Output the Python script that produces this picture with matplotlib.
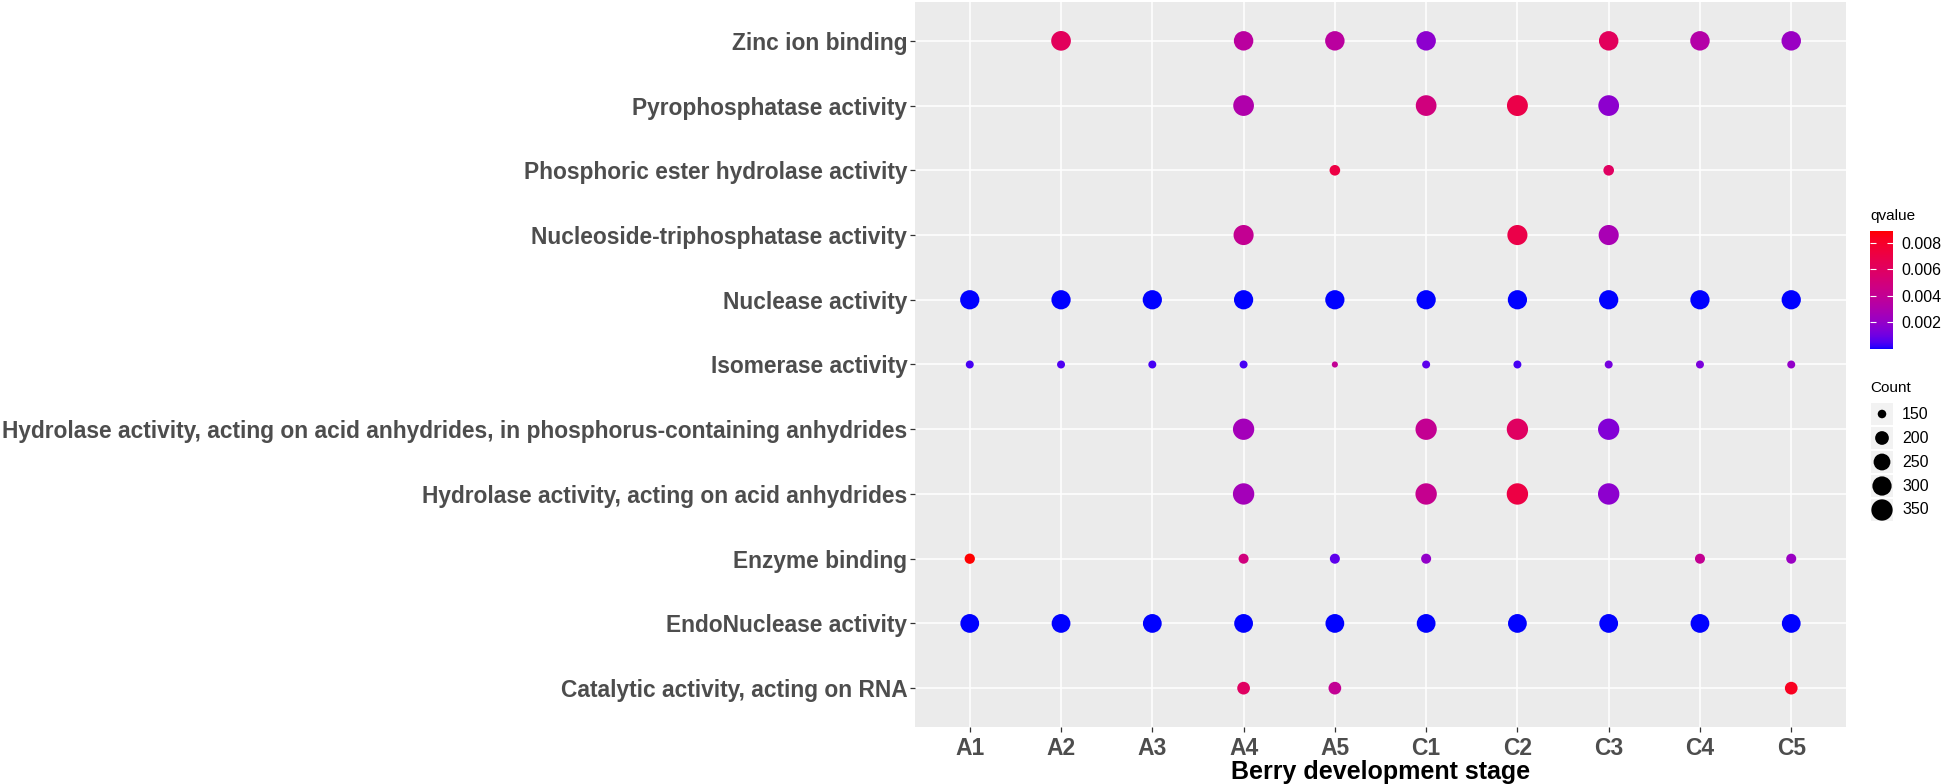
import numpy as np
import matplotlib
matplotlib.use("Agg")
import matplotlib.pyplot as plt
from matplotlib.colors import ListedColormap, Normalize
from matplotlib.patches import Rectangle

plt.rcParams['font.family'] = ['Liberation Sans', 'DejaVu Sans']

# ================================
#      DATA
# ================================
stages = ["A1", "A2", "A3", "A4", "A5", "C1", "C2", "C3", "C4", "C5"]

# bottom -> top (ggplot factor order)
terms = [
    "Catalytic activity, acting on RNA",
    "EndoNuclease activity",
    "Enzyme binding",
    "Hydrolase activity, acting on acid anhydrides",
    "Hydrolase activity, acting on acid anhydrides, in phosphorus-containing anhydrides",
    "Isomerase activity",
    "Nuclease activity",
    "Nucleoside-triphosphatase activity",
    "Phosphoric ester hydrolase activity",
    "Pyrophosphatase activity",
    "Zinc ion binding",
]

hit_stages = [
    ["A4", "A5", "C5"],
    ["A1", "A2", "A3", "A4", "A5", "C1", "C2", "C3", "C4", "C5"],
    ["A1", "A4", "A5", "C1", "C4", "C5"],
    ["A4", "C1", "C2", "C3"],
    ["A4", "C1", "C2", "C3"],
    ["A1", "A2", "A3", "A4", "A5", "C1", "C2", "C3", "C4", "C5"],
    ["A1", "A2", "A3", "A4", "A5", "C1", "C2", "C3", "C4", "C5"],
    ["A4", "C2", "C3"],
    ["A5", "C3"],
    ["A4", "C1", "C2", "C3"],
    ["A2", "A4", "A5", "C1", "C3", "C4", "C5"],
]

hit_counts = [
    [187, 187, 187],
    [290, 290, 290, 290, 290, 290, 290, 290, 290, 290],
    [162, 160, 160, 160, 160, 160],
    [352, 352, 352, 352],
    [350, 350, 350, 350],
    [147, 147, 147, 147, 141, 147, 147, 147, 147, 147],
    [300, 300, 300, 300, 300, 300, 300, 300, 300, 300],
    [320, 320, 320],
    [165, 165],
    [335, 335, 340, 335],
    [310, 305, 305, 305, 305, 305, 305],
]

hit_qvalues = [
    [0.0060, 0.0040, 0.0083],
    [0.00001] * 10,
    [0.0089, 0.0049, 0.0007, 0.0020, 0.0041, 0.0022],
    [0.0026, 0.0042, 0.0071, 0.0018],
    [0.0026, 0.0041, 0.0060, 0.0015],
    [0.0004, 0.0005, 0.0004, 0.0004, 0.0040, 0.0007, 0.0004, 0.0012, 0.0013, 0.0020],
    [0.00001] * 10,
    [0.0041, 0.0069, 0.0028],
    [0.0071, 0.0060],
    [0.0031, 0.0049, 0.0069, 0.0018],
    [0.0062, 0.0036, 0.0036, 0.0018, 0.0062, 0.0033, 0.0022],
]

legend_counts = [150, 200, 250, 300, 350]
q_ticks = [0.002, 0.004, 0.006, 0.008]
q_min, q_max = 0.0, 0.0089


# ================================
#      blue -> red gradient in Lab (like ggplot)
# ================================
def srgb_to_lab(rgb):
    rgb = np.asarray(rgb, dtype=float)
    lin = np.where(rgb <= 0.04045, rgb / 12.92, ((rgb + 0.055) / 1.055) ** 2.4)
    m = np.array([[0.4124, 0.3576, 0.1805],
                  [0.2126, 0.7152, 0.0722],
                  [0.0193, 0.1192, 0.9505]])
    xyz = m @ lin
    xyz = xyz / np.array([0.95047, 1.0, 1.08883])
    f = np.where(xyz > 0.008856, np.cbrt(xyz), 7.787 * xyz + 16 / 116)
    return np.array([116 * f[1] - 16, 500 * (f[0] - f[1]), 200 * (f[1] - f[2])])


def lab_to_srgb(lab):
    L, a, b = lab
    fy = (L + 16) / 116
    fx = fy + a / 500
    fz = fy - b / 200
    f = np.array([fx, fy, fz])
    xyz = np.where(f ** 3 > 0.008856, f ** 3, (f - 16 / 116) / 7.787)
    xyz = xyz * np.array([0.95047, 1.0, 1.08883])
    m = np.array([[3.2406, -1.5372, -0.4986],
                  [-0.9689, 1.8758, 0.0415],
                  [0.0557, -0.2040, 1.0570]])
    lin = np.clip(m @ xyz, 0, 1)
    return np.where(lin <= 0.0031308, 12.92 * lin, 1.055 * lin ** (1 / 2.4) - 0.055)


lab_lo = srgb_to_lab([0, 0, 1])
lab_hi = srgb_to_lab([1, 0, 0])
grad = [np.clip(lab_to_srgb(lab_lo + (lab_hi - lab_lo) * t), 0, 1) for t in np.linspace(0, 1, 256)]
cmap = ListedColormap(grad)
norm = Normalize(vmin=q_min, vmax=q_max)


# size scale (area ~ count), diameter in pixels at dpi 100
def count_to_s(c):
    d_px = 5 + 16.5 * np.sqrt(np.clip((np.asarray(c) - 140) / (355 - 140), 0, 1))
    return (d_px * 0.72) ** 2


# ================================
#      PLOT
# ================================
W, H = 1946, 784
fig = plt.figure(figsize=(W / 100, H / 100), dpi=100)
ax = fig.add_axes([915 / W, 1 - 727 / H, (1846 - 915) / W, (727 - 2) / H])
ax.set_facecolor("#EBEBEB")

xs, ys, ss, cs = [], [], [], []
for i, term in enumerate(terms):
    for st, cnt, q in zip(hit_stages[i], hit_counts[i], hit_qvalues[i]):
        xs.append(stages.index(st))
        ys.append(i)
        ss.append(cnt)
        cs.append(q)

ax.scatter(xs, ys, s=count_to_s(ss), c=cs, cmap=cmap, norm=norm,
           linewidths=0, zorder=3)

ax.set_xlim(-0.6, len(stages) - 1 + 0.6)
ax.set_ylim(-0.6, len(terms) - 1 + 0.6)
ax.set_xticks(range(len(stages)))
ax.set_xticklabels(stages)
ax.set_yticks(range(len(terms)))
ax.set_yticklabels(terms)
ax.grid(True, color="white", linewidth=1.1, zorder=0)
ax.set_axisbelow(True)
for sp in ax.spines.values():
    sp.set_visible(False)
ax.tick_params(axis="both", length=3.5, width=0.9, color="#333333", pad=2)
ax.tick_params(axis="x", pad=4)
for lab in ax.get_yticklabels():
    lab.set_fontsize(16.4)
    lab.set_fontweight("bold")
    lab.set_color("#4D4D4D")
for lab in ax.get_xticklabels():
    lab.set_fontsize(16.5)
    lab.set_fontweight("bold")
    lab.set_color("#4D4D4D")
ax.set_xlabel("Berry development stage", fontsize=18, fontweight="bold",
              color="black", labelpad=0)

# --- qvalue colorbar ---
fig.text(1870 / W, 1 - 216 / H, "qvalue", fontsize=11, va="center", ha="left")
cax = fig.add_axes([1870 / W, 1 - 349 / H, 23 / W, (349 - 231) / H])
cb = fig.colorbar(plt.cm.ScalarMappable(norm=norm, cmap=cmap), cax=cax)
cb.outline.set_visible(False)
cb.set_ticks(q_ticks)
cb.set_ticklabels([f"{t:.3f}" for t in q_ticks])
cax.tick_params(axis="y", direction="in", color="white", length=4.5, width=0.8,
                left=True, right=True, labelsize=11.5, pad=6)
cax.tick_params(axis="y", which="minor", length=0)

# --- Count legend ---
fig.text(1870 / W, 1 - 388 / H, "Count", fontsize=11, va="center", ha="left")
lax = fig.add_axes([1870 / W, 1 - 522 / H, 76 / W, 120 / H])
lax.set_xlim(0, 76)
lax.set_ylim(120, 0)
lax.axis("off")
for k, c in enumerate(legend_counts):
    lax.add_patch(Rectangle((1, 24 * k + 1), 22, 22, facecolor="#F2F2F2", edgecolor="none"))
    lax.text(32, 24 * k + 12, str(c), fontsize=11.5, va="center", ha="left")
lax.scatter([12] * len(legend_counts), [24 * k + 12 for k in range(len(legend_counts))],
            s=count_to_s(legend_counts), c="black", linewidths=0, zorder=3)

fig.savefig("out.png", dpi=100)
